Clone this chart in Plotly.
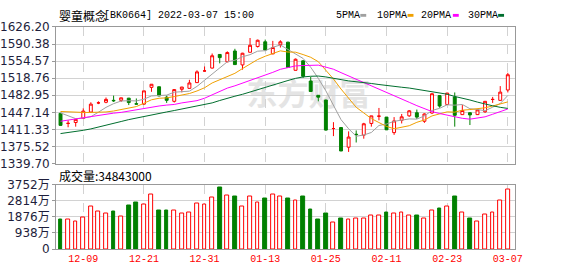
import plotly.graph_objects as go

# ---------------- data ----------------
dates = [
    "2021-12-06", "2021-12-07", "2021-12-08", "2021-12-09", "2021-12-10",
    "2021-12-13", "2021-12-14", "2021-12-15", "2021-12-16", "2021-12-17",
    "2021-12-20", "2021-12-21", "2021-12-22", "2021-12-23", "2021-12-24",
    "2021-12-27", "2021-12-28", "2021-12-29", "2021-12-30", "2021-12-31",
    "2022-01-04", "2022-01-05", "2022-01-06", "2022-01-07",
    "2022-01-10", "2022-01-11", "2022-01-12", "2022-01-13", "2022-01-14",
    "2022-01-17", "2022-01-18", "2022-01-19", "2022-01-20", "2022-01-21",
    "2022-01-24", "2022-01-25", "2022-01-26", "2022-01-27", "2022-01-28",
    "2022-02-07", "2022-02-08", "2022-02-09", "2022-02-10", "2022-02-11",
    "2022-02-14", "2022-02-15", "2022-02-16", "2022-02-17", "2022-02-18",
    "2022-02-21", "2022-02-22", "2022-02-23", "2022-02-24", "2022-02-25",
    "2022-02-28", "2022-03-01", "2022-03-02", "2022-03-03", "2022-03-04",
    "2022-03-07",
]
open_ = [1445.1, 1424.0, 1425.9, 1434.5, 1447.8, 1467.0, 1468.3, 1472.4, 1472.3, 1476.9,
         1465.2, 1464.4, 1499.5, 1500.8, 1478.9, 1470.3, 1495.5, 1497.5, 1509.5, 1533.9,
         1540.0, 1568.5, 1553.2, 1575.8, 1546.6, 1573.1, 1585.1, 1595.0, 1569.8, 1589.1,
         1594.3, 1535.3, 1555.2, 1512.8, 1482.9, 1473.0, 1413.2, 1415.3, 1374.2, 1401.3,
         1399.4, 1423.9, 1439.1, 1437.2, 1404.7, 1430.5, 1439.8, 1446.4, 1428.5, 1445.8,
         1482.3, 1463.7, 1479.6, 1442.4, 1446.4, 1442.4, 1448.4, 1474.2, 1472.3, 1494.0]
high = [1446.0, 1430.5, 1433.0, 1455.7, 1468.3, 1470.3, 1478.3, 1482.3, 1478.0, 1477.5,
        1476.3, 1492.5, 1506.5, 1501.0, 1482.3, 1495.5, 1500.5, 1515.4, 1535.3, 1543.3,
        1570.5, 1569.0, 1575.0, 1580.4, 1572.0, 1603.0, 1599.7, 1599.7, 1597.0, 1598.3,
        1595.0, 1560.0, 1556.0, 1521.4, 1483.2, 1473.3, 1426.6, 1415.6, 1407.3, 1409.3,
        1425.2, 1440.0, 1456.4, 1437.5, 1437.2, 1443.8, 1452.0, 1453.0, 1445.0, 1487.0,
        1483.0, 1488.0, 1488.9, 1462.4, 1447.0, 1453.0, 1471.0, 1479.6, 1502.2, 1530.0]
low = [1419.0, 1415.9, 1417.2, 1434.0, 1447.0, 1464.4, 1466.3, 1469.0, 1469.0, 1462.4,
       1463.7, 1463.0, 1490.2, 1481.0, 1467.0, 1467.7, 1489.0, 1497.0, 1509.0, 1533.0,
       1539.0, 1549.9, 1552.0, 1547.0, 1536.6, 1573.0, 1583.1, 1577.0, 1569.0, 1583.1,
       1541.0, 1535.0, 1519.4, 1490.0, 1470.3, 1409.0, 1397.4, 1366.0, 1364.2, 1384.0,
       1392.0, 1417.2, 1430.5, 1410.0, 1400.0, 1423.9, 1438.0, 1433.2, 1425.2, 1444.0,
       1457.0, 1463.0, 1417.2, 1442.0, 1420.6, 1442.0, 1446.0, 1467.0, 1472.0, 1488.9]
close = [1419.9, 1424.1, 1432.5, 1449.8, 1464.4, 1467.1, 1474.3, 1471.5, 1477.6, 1467.7,
         1464.5, 1492.2, 1506.1, 1481.6, 1472.3, 1494.9, 1500.2, 1508.8, 1532.0, 1534.0,
         1565.8, 1561.9, 1572.5, 1547.3, 1571.1, 1587.7, 1598.3, 1577.8, 1583.1, 1595.0,
         1541.3, 1558.5, 1522.7, 1490.9, 1479.0, 1410.0, 1413.3, 1366.2, 1395.4, 1400.6,
         1423.2, 1439.8, 1439.2, 1410.6, 1429.2, 1437.8, 1450.4, 1437.2, 1443.8, 1486.2,
         1460.4, 1487.6, 1441.0, 1451.1, 1441.8, 1452.4, 1470.3, 1474.3, 1489.6, 1526.0]
volume = [17100000, 17100000, 16000000, 18580000, 24830000, 21880000, 20420000, 22070000,
          18760000, 25570000, 27040000, 25940000, 32000000, 22620000, 22620000, 22620000,
          20780000, 21520000, 26300000, 26120000, 29800000, 35500000, 30900000, 30530000,
          24830000, 30350000, 27040000, 29250000, 31450000, 30350000, 29250000, 28140000,
          30530000, 23180000, 17110000, 20420000, 15450000, 17660000, 16920000, 17660000,
          17660000, 19310000, 19310000, 20970000, 20420000, 21520000, 19310000, 19310000,
          17660000, 22620000, 23730000, 24830000, 30530000, 21520000, 17660000, 16000000,
          19870000, 21520000, 28140000, 34843000]
vol_up = [0, 1, 1, 1, 1, 1, 1, 0, 1, 0, 0, 1, 1, 0, 0, 1, 1, 1, 1, 1,
          1, 0, 1, 0, 1, 1, 1, 0, 1, 1, 0, 1, 0, 0, 0, 0, 1, 0, 1, 1,
          1, 1, 1, 0, 1, 1, 1, 0, 1, 1, 0, 1, 0, 1, 0, 1, 1, 1, 1, 1]
ma5 = [1446.0, 1440.0, 1434.0, 1435.0, 1438.1, 1447.5, 1457.6, 1465.4, 1471.0, 1471.6,
       1471.1, 1474.7, 1481.6, 1482.4, 1483.3, 1489.4, 1491.0, 1491.6, 1501.6, 1514.0,
       1528.2, 1540.5, 1553.2, 1556.3, 1563.7, 1568.1, 1575.4, 1576.4, 1583.6, 1588.4,
       1579.1, 1571.1, 1560.1, 1541.7, 1518.5, 1492.2, 1463.2, 1431.9, 1412.8, 1397.1,
       1399.7, 1405.0, 1419.6, 1422.7, 1428.4, 1431.3, 1433.4, 1433.0, 1439.7, 1451.1,
       1455.6, 1463.0, 1462.2, 1463.7, 1454.8, 1453.2, 1450.6, 1458.0, 1465.7, 1482.5]
ma10 = [1449.0, 1448.0, 1447.0, 1447.0, 1447.0, 1447.0, 1448.0, 1450.0, 1453.0, 1454.9,
        1459.3, 1466.2, 1473.5, 1476.7, 1477.5, 1480.3, 1482.9, 1486.6, 1492.0, 1498.7,
        1508.8, 1515.8, 1522.4, 1529.0, 1538.9, 1548.1, 1557.9, 1564.8, 1570.0, 1576.1,
        1573.6, 1573.3, 1568.3, 1562.6, 1553.4, 1535.7, 1517.2, 1496.0, 1477.2, 1457.8,
        1446.0, 1434.1, 1425.8, 1417.7, 1412.8, 1415.5, 1419.2, 1426.3, 1431.2, 1439.7,
        1443.5, 1448.2, 1447.6, 1451.7, 1453.0, 1454.4, 1456.8, 1460.5, 1465.1, 1469.1]
ma20 = [1428.5, 1431.0, 1433.8, 1436.5, 1439.2, 1441.5, 1443.8, 1445.5, 1447.1, 1450.0,
        1452.4, 1456.0, 1458.5, 1460.5, 1462.4, 1463.7, 1467.0, 1469.0, 1471.7, 1476.8,
        1484.1, 1491.0, 1498.0, 1502.8, 1508.2, 1514.2, 1520.4, 1525.7, 1531.0, 1537.4,
        1541.2, 1544.5, 1545.3, 1545.8, 1546.1, 1541.9, 1537.6, 1530.4, 1523.6, 1516.9,
        1509.8, 1503.7, 1497.0, 1490.2, 1483.1, 1475.6, 1468.2, 1461.2, 1454.2, 1448.8,
        1444.7, 1441.2, 1436.7, 1434.7, 1432.9, 1435.0, 1437.8, 1443.2, 1447.9, 1454.2]
ma30 = [1402.7, 1404.5, 1407.0, 1409.5, 1412.5, 1416.0, 1420.0, 1424.0, 1428.0, 1432.0,
        1435.5, 1439.0, 1442.0, 1445.0, 1448.0, 1451.0, 1454.0, 1456.5, 1459.5, 1463.0,
        1467.0, 1472.0, 1477.0, 1481.0, 1485.0, 1490.0, 1495.0, 1500.0, 1505.0, 1509.9,
        1513.9, 1518.4, 1521.4, 1522.8, 1523.3, 1521.4, 1519.3, 1515.8, 1513.1, 1510.8,
        1509.5, 1507.7, 1505.5, 1503.1, 1501.7, 1499.8, 1498.1, 1495.7, 1492.8, 1491.2,
        1487.7, 1485.2, 1480.5, 1477.4, 1473.1, 1468.6, 1464.3, 1460.9, 1457.7, 1455.4]
price_ticks = [1339.70, 1375.52, 1411.33, 1447.14, 1482.95, 1518.76, 1554.57, 1590.38, 1626.20]
vol_ticks_wan = [0, 938, 1876, 2814, 3752]
tick_dates = ["2021-12-09", "2021-12-21", "2021-12-31", "2022-01-13",
              "2022-01-25", "2022-02-11", "2022-02-23", "2022-03-07"]
ma_names = ["5PMA", "10PMA", "20PMA", "30PMA"]
title_name = "婴童概念"
title_code = "[BK0664] 2022-03-07 15:00"
watermark = "东方财富"

# ---------------- styles ----------------
W, H = 578, 276
UP, DOWN = "#FF0000", "#008000"
MA_COLORS = ["#A0A0A0", "#F0A000", "#FF00FF", "#006E2E"]
GRID = "#D2D2D2"
BORDER = "#999999"
L, R = 56, 522
MAIN_T, MAIN_B = 21, 165
VOL_T, VOL_B = 187, 255

idx = list(range(len(dates)))
tick_idx = [dates.index(d) for d in tick_dates]
tick_text = [d[5:] for d in tick_dates]
xrange_ = [-0.58, len(dates) - 1 + 0.93]

fig = go.Figure()
fig.add_trace(go.Candlestick(
    x=idx, open=open_, high=high, low=low, close=close,
    increasing=dict(line=dict(color=UP, width=1), fillcolor="#FFFFFF"),
    decreasing=dict(line=dict(color=DOWN, width=1), fillcolor=DOWN),
    whiskerwidth=0, xaxis="x", yaxis="y", showlegend=False, hoverinfo="skip"))
for vals, col in zip([ma5, ma10, ma20, ma30], MA_COLORS):
    fig.add_trace(go.Scatter(x=idx, y=vals, mode="lines", line=dict(color=col, width=1),
                             xaxis="x", yaxis="y", showlegend=False, hoverinfo="skip"))
fig.add_trace(go.Bar(
    x=idx, y=volume, width=0.5,
    marker=dict(color=["#FFFFFF" if u else DOWN for u in vol_up],
                line=dict(color=[UP if u else DOWN for u in vol_up], width=1)),
    xaxis="x2", yaxis="y2", showlegend=False, hoverinfo="skip"))

def py(px):
    return 1 - px / H

axis_common = dict(showline=True, mirror=True, linecolor=BORDER, linewidth=1, zeroline=False)
fig.update_layout(
    width=W, height=H, margin=dict(l=0, r=0, t=0, b=0),
    paper_bgcolor="white", plot_bgcolor="white", showlegend=False,
    boxgap=0.45, bargap=0,
    xaxis=dict(domain=[L / W, R / W], range=xrange_, anchor="y", tickvals=tick_idx,
               showticklabels=False, ticks="", showgrid=True, gridcolor=GRID, griddash="dash",
               gridwidth=1, rangeslider=dict(visible=False), **axis_common),
    yaxis=dict(domain=[py(MAIN_B), py(MAIN_T)], range=[price_ticks[0] - 0.01, price_ticks[-1] + 0.01],
               tickvals=price_ticks, ticktext=[f"{v:.2f}" for v in price_ticks],
               ticks="outside", ticklen=3, tickcolor=BORDER, showgrid=True, gridcolor=GRID,
               tickfont=dict(family="DejaVu Sans", size=12, color="#1E1E3C"), **axis_common),
    xaxis2=dict(domain=[L / W, R / W], range=xrange_, anchor="y2", tickvals=tick_idx,
                ticktext=tick_text, ticks="", showgrid=True, gridcolor=GRID, griddash="dash",
                tickfont=dict(family="Liberation Mono", size=10, color=UP), **axis_common),
    yaxis2=dict(domain=[py(VOL_B), py(VOL_T)], range=[0, vol_ticks_wan[-1] * 10000 + 100],
                tickvals=[v * 10000 for v in vol_ticks_wan],
                ticktext=[f"{v}万" if v else "0" for v in vol_ticks_wan],
                ticks="outside", ticklen=3, tickcolor=BORDER, showgrid=True, gridcolor=GRID,
                tickfont=dict(family="DejaVu Sans, Noto Sans CJK SC", size=12, color="#1E1E3C"),
                **axis_common),
)

ann = []
ann.append(dict(text=title_name, x=57 / W, y=py(8.5), xref="paper", yref="paper",
                xanchor="left", yanchor="middle", showarrow=False,
                font=dict(family="Noto Sans CJK SC", size=12, color="#000000")))
ann.append(dict(text=title_code, x=103 / W, y=py(8.5), xref="paper", yref="paper",
                xanchor="left", yanchor="middle", showarrow=False,
                font=dict(family="Liberation Mono", size=10, color="#000000")))
ann.append(dict(text=f"成交量:{volume[-1]}", x=57 / W, y=py(177), xref="paper", yref="paper",
                xanchor="left", yanchor="middle", showarrow=False,
                font=dict(family="Noto Sans CJK SC", size=12, color="#000000")))
leg_x = [338, 380, 425, 472]
sq_x = [365, 413, 459, 505]
shapes = []
for name, col, lx, sx in zip(ma_names, MA_COLORS, leg_x, sq_x):
    ann.append(dict(text=name, x=lx / W, y=py(8.5), xref="paper", yref="paper",
                    xanchor="left", yanchor="middle", showarrow=False,
                    font=dict(family="Liberation Mono", size=10, color="#000000")))
    shapes.append(dict(type="rect", xref="paper", yref="paper", x0=sx / W, x1=(sx + 6) / W,
                       y0=py(10.3), y1=py(7.3), fillcolor=col, line=dict(width=0)))
# watermark below traces
shapes.append(dict(type="rect", xref="x domain", yref="y domain", x0=0.35, x1=0.75,
                   y0=0.38, y1=0.60, line=dict(width=0), fillcolor="rgba(0,0,0,0)",
                   layer="below",
                   label=dict(text=f"<b>{watermark}</b>", textposition="middle center",
                              font=dict(family="Noto Sans CJK SC", size=31, color="#E4E4E4"))))
fig.update_layout(annotations=ann, shapes=shapes)

fig.write_html("out.html")
